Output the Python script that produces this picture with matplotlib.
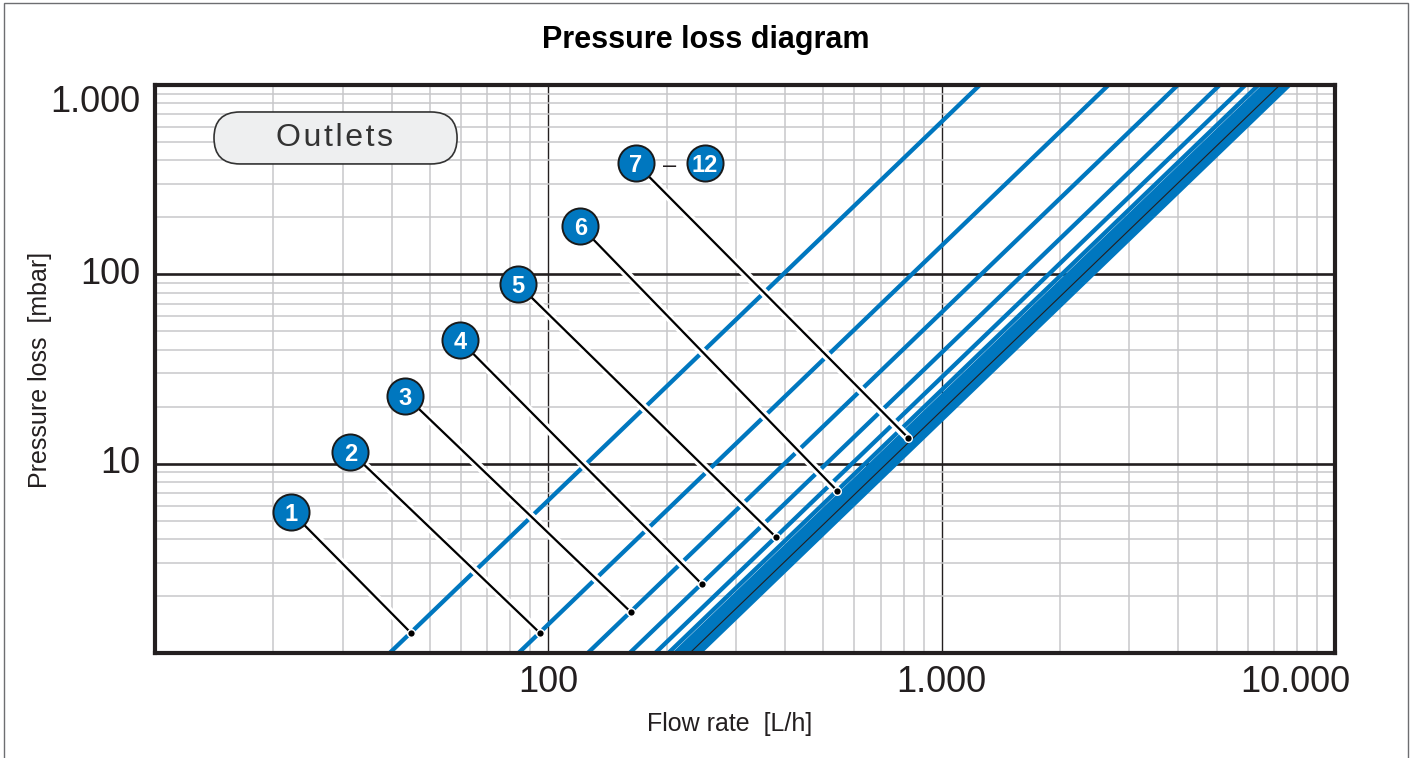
import numpy as np
import matplotlib
matplotlib.use('Agg')
import matplotlib.pyplot as plt
from matplotlib import patheffects as pe
from matplotlib.patches import FancyBboxPatch, Rectangle
from matplotlib.ticker import LogLocator, NullFormatter, FixedLocator
from matplotlib.transforms import blended_transform_factory, ScaledTranslation

# flow rate [L/h] where each outlet curve crosses 1 mbar and 1000 mbar
flow_at_1mbar = [39.5, 84, 126, 161, 187, 202, 210, 216, 222, 228, 235, 242]
flow_at_1000mbar = [1250, 2655, 3985, 5090, 5915, 6390, 6640, 6830, 7020, 7210, 7430, 7650]
# thin dark line running inside the 7-12 bundle
dark_flow = [229, 7240]

# callouts: badge position (flow, pressure), curve index, pressure of the marker dot
callout_text = ['1', '2', '3', '4', '5', '6', '7']
callout_flow = [22.2, 31.4, 43.2, 59.6, 83.8, 120.7, 166.7]
callout_pressure = [5.57, 11.57, 22.9, 44.8, 88.5, 179.5, 386.5]
callout_curve = [0, 1, 2, 3, 4, 5, 8]
callout_dot_pressure = [1.28, 1.28, 1.65, 2.32, 4.1, 7.2, 13.7]
range_end_text = '12'
range_end_flow = 250
range_dash_flow = 204

x_ticks = [100, 1000, 10000]
x_tick_labels = ['100', '1.000', '10.000']
y_ticks = [10, 100, 1000]
y_tick_labels = ['10', '100', '1.000']

BLUE = '#0077bf'
DARK = '#231f20'

plt.rcParams['font.family'] = ['Liberation Sans', 'DejaVu Sans']

fig = plt.figure(figsize=(14.13, 7.58), dpi=100)
ax = fig.add_axes([155 / 1413, 105 / 758, 1180 / 1413, 568 / 758])
ax.set_xscale('log')
ax.set_yscale('log')
ax.set_xlim(10, 10000)
ax.set_ylim(1, 1000)

# grid
ax.xaxis.set_major_locator(FixedLocator(x_ticks))
ax.yaxis.set_major_locator(FixedLocator(y_ticks))
ax.xaxis.set_minor_locator(LogLocator(base=10, subs=np.arange(2, 10)))
ax.yaxis.set_minor_locator(LogLocator(base=10, subs=np.arange(2, 10)))
ax.xaxis.set_major_formatter(NullFormatter())
ax.yaxis.set_major_formatter(NullFormatter())
ax.xaxis.set_minor_formatter(NullFormatter())
ax.yaxis.set_minor_formatter(NullFormatter())
ax.tick_params(which='both', length=0)
ax.set_axisbelow(True)
ax.grid(which='minor', color='#c8c8ca', lw=1.1)
ax.yaxis.grid(which='major', color=DARK, lw=1.9)
ax.xaxis.grid(which='major', color=DARK, lw=1.0)
for s in ax.spines.values():
    s.set_linewidth(3)
    s.set_color(DARK)
    s.set_zorder(10)

# outlet curves
for q1, q1000 in zip(flow_at_1mbar, flow_at_1000mbar):
    ax.plot([q1, q1000], [1, 1000], color=BLUE, lw=3.1, solid_capstyle='butt', zorder=2)
ax.plot(dark_flow, [1, 1000], color=DARK, lw=0.8, zorder=2.1)

# badge text sits a touch low so digits look centred in the circle
badge_off = ScaledTranslation(0, -0.025, fig.dpi_scale_trans)


def badge(x, y, txt):
    ax.plot(x, y, 'o', ms=26, mfc=BLUE, mec='#1a1a1a', mew=1.4, zorder=5)
    ax.text(x, y, txt, color='white', fontsize=17, fontweight='bold',
            ha='center', va='center', zorder=6, transform=ax.transData + badge_off)


# callouts
for txt, cx, cy, ci, pd in zip(callout_text, callout_flow, callout_pressure,
                               callout_curve, callout_dot_pressure):
    lq = np.interp(np.log10(pd), [0, 3],
                   [np.log10(flow_at_1mbar[ci]), np.log10(flow_at_1000mbar[ci])])
    qd = 10 ** lq
    ax.plot([cx, qd], [cy, pd], color='black', lw=1.6, solid_capstyle='butt', zorder=3,
            path_effects=[pe.Stroke(linewidth=6, foreground='white'), pe.Normal()])
    ax.plot(qd, pd, 'o', ms=5.5, mfc='black', mec='white', mew=1.0, zorder=4)
    badge(cx, cy, txt)

badge(range_end_flow, callout_pressure[-1], range_end_text)
ax.text(range_dash_flow, callout_pressure[-1], '–', color=DARK, fontsize=17,
        ha='center', va='center', zorder=6, transform=ax.transData + badge_off)

# "Outlets" pill
pill = FancyBboxPatch((0.05, 0.861), 0.206, 0.0915,
                      boxstyle='round,pad=0,rounding_size=0.022',
                      mutation_aspect=1180 / 568, transform=ax.transAxes,
                      fc='#eeeff0', ec='#333333', lw=1.2, zorder=7)
ax.add_patch(pill)
ax.text(0.1525, 0.9067, 'O u t l e t s'.replace(' ', '\u200a'), transform=ax.transAxes,
        fontsize=23, color='#333333', ha='center', va='center', zorder=8)

# tick labels
bx = blended_transform_factory(ax.transData, ax.transAxes)
by = blended_transform_factory(ax.transAxes, ax.transData)
for v, s in zip(x_ticks, x_tick_labels):
    ha = 'right' if v == x_ticks[-1] else 'center'
    dx = 0.15 if v == x_ticks[-1] else 0
    ax.text(v, 0, s, fontsize=26, color=DARK, ha=ha, va='top',
            transform=bx + ScaledTranslation(dx, -0.12, fig.dpi_scale_trans))
for v, s in zip(y_ticks, y_tick_labels):
    va = 'top' if v == y_ticks[-1] else 'center'
    ax.text(0, v, s, fontsize=26, color=DARK, ha='right', va=va,
            transform=by + ScaledTranslation(-0.15, 0, fig.dpi_scale_trans))

fig.text(730 / 1413, 1 - 724 / 758, 'Flow rate  [L/h]', fontsize=18, color=DARK,
         ha='center', va='center')
fig.text(40 / 1413, 1 - 370 / 758, 'Pressure loss  [mbar]', fontsize=18, color=DARK,
         ha='center', va='center', rotation=90)
fig.text(706 / 1413, 1 - 40 / 758, 'Pressure loss diagram', fontsize=22,
         fontweight='bold', color='black', ha='center', va='center')

# outer frame
fig.add_artist(Rectangle((4 / 1413, -0.02), 1404 / 1413, 1.016, transform=fig.transFigure,
                         fill=False, ec='#6d6e71', lw=1.0))

fig.savefig('out.png', dpi=100)
